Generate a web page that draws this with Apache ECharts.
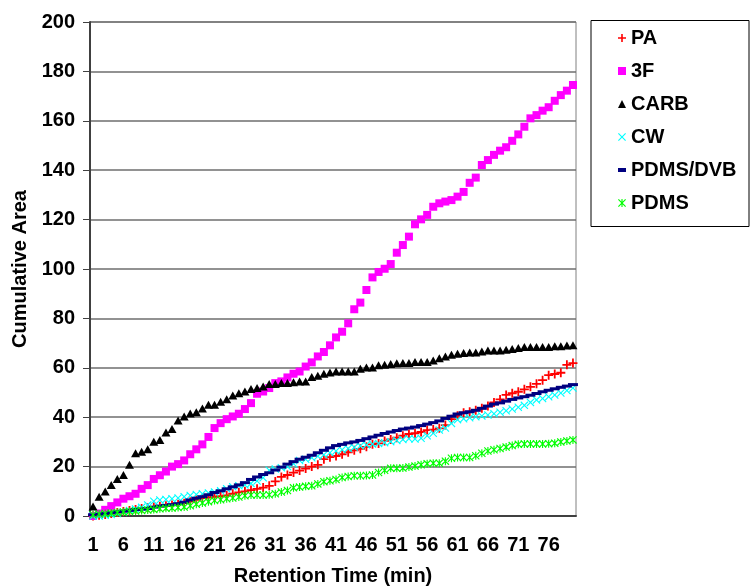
<!DOCTYPE html>
<html>
<head>
<meta charset="utf-8">
<script src="https://cdn.jsdelivr.net/npm/echarts@6/dist/echarts.min.js"></script>
<style>
  html, body { margin: 0; padding: 0; background: #fff; }
  #chart { width: 752px; height: 588px; }
</style>
</head>
<body>
<div id="chart"></div>
<script>
// Retention time (min), one category per minute
const times = Array.from({ length: 80 }, (_, k) => String(k + 1));

// Cumulative area per fibre coating
const PA = [0, 0.3, 0.6, 1, 1.4, 1.8, 2.2, 2.6, 3, 3.3, 3.6, 3.9, 4.2, 4.5, 4.8, 5.2, 5.8, 6.5, 7.2, 7.5,
  7.8, 8, 8.3, 9, 9.6, 10, 10.5, 11, 11.5, 12.2, 14, 15.8, 16.6, 17.6, 18.4, 19.2, 20, 20.7, 23, 23.8,
  24.3, 25, 25.8, 26.6, 27.2, 28, 29, 29.4, 30.4, 31, 31.7, 32.5, 33.2, 33.5, 34, 34.8, 35, 35.5, 36.8, 39.2,
  40.6, 41.8, 42.2, 42.8, 43.6, 44.5, 46, 47.2, 49, 49.7, 50.3, 51.3, 52.3, 53.5, 55, 57, 57.5, 58, 61.2, 61.9];

const F3 = [0, 1, 2.5, 4, 5.5, 7, 8, 9, 11, 12.5, 15, 16.5, 18, 20, 21, 22.5, 25, 27, 29, 32,
  35.6, 37.6, 39.2, 40.3, 41.4, 43.3, 45.7, 49.5, 50.4, 51.8, 53.8, 54.5, 56.1, 57.6, 58.5, 60.5, 62.2, 64.6, 66.4, 69.1,
  72.3, 74.6, 78, 83.7, 86.4, 91.5, 96.6, 98.8, 100.1, 102, 106.6, 109.7, 113.1, 118.1, 120.1, 121.9, 125.2, 126.6, 127.3, 127.9,
  129.3, 131.2, 134.9, 137, 142.1, 144.1, 146.2, 147.9, 149.3, 151.9, 154.5, 157.6, 161, 162.3, 164.1, 165.5, 168.1, 170.4, 172.2, 174.5];

const CARB = [3.8, 7.8, 9.9, 12.6, 15, 16.6, 20.7, 25.4, 26, 27, 30.1, 30.8, 33.8, 35.2, 38.7, 40.3, 41.5, 42, 43.5, 45,
  45, 46.3, 47.3, 48.8, 49.7, 50.4, 51.4, 51.8, 52.4, 53.4, 53.4, 53.8, 53.8, 54.1, 54.5, 54.5, 56.3, 56.8, 57.6, 58.1,
  58.5, 58.5, 58.5, 58.5, 59.6, 60.1, 60.1, 61, 61.2, 61.5, 61.8, 61.9, 61.9, 62.3, 62.3, 62.3, 63, 63.9, 64.6, 65.3,
  65.7, 66, 66.2, 66.2, 66.6, 67, 67, 67, 67.3, 67.6, 68, 68.4, 68.4, 68.4, 68.4, 68.4, 68.7, 68.7, 69, 69.1];

const CW = [0, 0, 0.3, 0.6, 1, 1.5, 2.2, 2.8, 3.5, 4.5, 6, 6.5, 6.7, 7, 7.3, 7.8, 8.3, 8.7, 9, 9.3,
  9.7, 10.2, 11, 11.8, 12.2, 12.6, 13.2, 14.2, 15.5, 18.5, 19, 19.5, 20, 21.2, 22.5, 23, 23.6, 24.2, 24.8, 25.6,
  26.3, 26.8, 27.3, 27.8, 28.4, 28.8, 29.1, 29.4, 29.7, 30.1, 30.6, 31, 31.3, 31.2, 31.5, 32.5, 33.5, 34.8, 35.6, 37.5,
  39, 39.4, 39.8, 40.2, 40.5, 40.9, 41.4, 42, 42.6, 43.3, 44, 44.8, 46, 47, 47.6, 48.3, 49, 49.8, 50.8, 51.8];

const PDMS_DVB = [0.5, 0.7, 1, 1.3, 1.7, 2, 2.3, 2.6, 2.8, 3, 3.6, 4, 4.3, 4.6, 5, 5.6, 6.5, 7.2, 7.8, 8.6,
  9.5, 10.2, 11, 11.8, 12.6, 13.5, 14.8, 15.8, 16.8, 17.5, 18.6, 19.8, 21, 22, 23, 23.8, 24.6, 25.6, 26.6, 27.6,
  28.5, 29, 29.6, 30, 30.6, 31.3, 32, 32.7, 33.4, 34, 34.6, 35.2, 35.6, 36, 36.6, 37.2, 37.8, 38.5, 39.5, 40.4,
  41.3, 41.8, 42.2, 42.8, 43.6, 44.5, 45.3, 45.8, 46.5, 47.2, 47.8, 48.3, 48.9, 49.6, 50.3, 50.9, 51.5, 52.1, 52.6, 53.2];

const PDMS = [0.5, 0.8, 1, 1.2, 1.4, 1.6, 1.8, 2, 2.2, 2.4, 2.6, 2.9, 3.1, 3.2, 3.4, 3.6, 4.2, 4.8, 5.3, 5.8,
  6.3, 6.6, 7, 7.3, 7.7, 8.2, 8.5, 8.5, 8.5, 8.6, 9, 9.7, 10.3, 11.4, 11.7, 12, 12.2, 13, 13.9, 14.3,
  14.8, 15.6, 16, 16.3, 16.3, 16.4, 16.6, 17.6, 18.5, 19.3, 19.3, 19.4, 19.8, 20.2, 20.7, 21.2, 21.4, 21.4, 22.2, 23.4,
  23.7, 23.7, 23.7, 24.4, 25.4, 26.3, 26.8, 27.3, 27.9, 28.5, 29, 29.2, 29.2, 29.2, 29.2, 29.3, 29.5, 30, 30.4, 30.8];

const yTicks = { min: 0, max: 200, interval: 20 };

// Marker shapes
const PLUS = 'path://M4,0H6V4H10V6H6V10H4V6H0V4H4Z';
const CROSS = 'path://M1,0L5,4L9,0L10,1L6,5L10,9L9,10L5,6L1,10L0,9L4,5L0,1Z';
const STAR = 'path://M1,0L5,4L9,0L10,1L6,5L10,9L9,10L5,6L1,10L0,9L4,5L0,1Z M4.3,0H5.7V10H4.3Z';
const DASH = 'path://M0,0H10V5H0Z';

const seriesDefs = [
  { name: 'PA', data: PA, color: '#ff0000', symbol: PLUS, size: 9, keep: false },
  { name: '3F', data: F3, color: '#ff00ff', symbol: 'rect', size: 8, keep: false },
  { name: 'CARB', data: CARB, color: '#000000', symbol: 'triangle', size: [9, 8], keep: false },
  { name: 'CW', data: CW, color: '#00ffff', symbol: CROSS, size: 8, keep: false },
  { name: 'PDMS/DVB', data: PDMS_DVB, color: '#000080', symbol: DASH, size: [10, 6], keep: true },
  { name: 'PDMS', data: PDMS, color: '#00ff00', symbol: STAR, size: 8, keep: false }
];

const FONT = '"Liberation Sans", Arial, Helvetica, sans-serif';

const chart = echarts.init(document.getElementById('chart'), null, { renderer: 'canvas' });

chart.setOption({
  animation: false,
  backgroundColor: '#ffffff',
  textStyle: { fontFamily: FONT },
  grid: {
    left: 90, right: 176, top: 22, bottom: 72,
    containLabel: false,
    outerBoundsMode: 'none',
    show: true, borderColor: '#808080', borderWidth: 1, backgroundColor: 'transparent'
  },
  legend: {
    orient: 'vertical',
    left: 618,
    top: 28,
    itemWidth: 8,
    itemHeight: 8,
    itemGap: 13,
    padding: 0,
    selectedMode: false,
    textStyle: { fontFamily: FONT, fontWeight: 'bold', fontSize: 20, color: '#000', lineHeight: 20 },
    data: seriesDefs.map(s => ({
      name: s.name,
      icon: s.symbol,
      itemStyle: { color: s.color }
    }))
  },
  graphic: [{
    type: 'rect',
    shape: { x: 591, y: 20.5, width: 158, height: 206 },
    style: { fill: 'none', stroke: '#000', lineWidth: 1 },
    silent: true
  }],
  xAxis: {
    type: 'category',
    data: times,
    boundaryGap: true,
    name: 'Retention Time (min)',
    nameLocation: 'middle',
    nameGap: 50,
    nameTextStyle: { fontFamily: FONT, fontWeight: 'bold', fontSize: 20, color: '#000' },
    axisLine: { show: true, lineStyle: { color: '#404040', width: 2 } },
    axisTick: { show: false },
    axisLabel: {
      interval: 4,
      margin: 19,
      fontFamily: FONT, fontWeight: 'bold', fontSize: 20, color: '#000'
    },
    splitLine: { show: false }
  },
  yAxis: {
    type: 'value',
    min: yTicks.min,
    max: yTicks.max,
    interval: yTicks.interval,
    name: 'Cumulative Area',
    nameLocation: 'middle',
    nameGap: 60,
    nameRotate: 90,
    nameTextStyle: { fontFamily: FONT, fontWeight: 'bold', fontSize: 20, color: '#000' },
    axisLine: { show: true, lineStyle: { color: '#404040', width: 2 } },
    axisTick: { show: true, inside: false, length: 7, lineStyle: { color: '#404040', width: 1 } },
    axisLabel: { margin: 15, fontFamily: FONT, fontWeight: 'bold', fontSize: 20, color: '#000' },
    splitLine: { show: true, lineStyle: { color: '#6e6e6e', width: 1.5 } }
  },
  series: seriesDefs.map(s => ({
    name: s.name,
    type: 'scatter',
    data: s.data,
    symbol: s.symbol,
    symbolSize: s.size,
    symbolKeepAspect: s.keep,
    itemStyle: { color: s.color, opacity: 1 },
    emphasis: { disabled: true }
  }))
});
</script>
</body>
</html>
